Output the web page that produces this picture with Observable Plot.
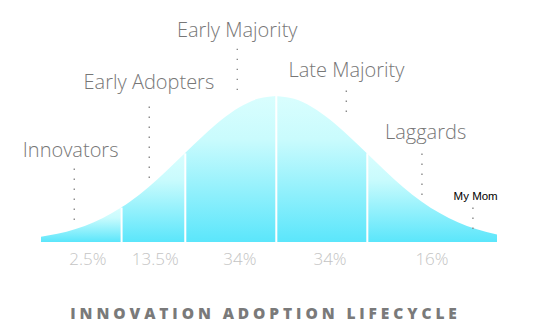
<!DOCTYPE html>
<html><head><meta charset="utf-8">
<script src="https://cdn.jsdelivr.net/npm/d3@7"></script>
<script src="https://cdn.jsdelivr.net/npm/@observablehq/plot@0.6"></script>
<style>body{margin:0;background:#fff;} #chart svg{display:block}</style>
</head><body><div id="chart"></div>
<script>
// Curve shape (x in standard deviations, y = relative height, peak = 100)
const curveX = [-2.58,-2.4,-2.2,-2.0,-1.8,-1.7,-1.6,-1.4,-1.2,-1.0,-0.8,-0.6,-0.4,-0.2,0,0.2,0.4,0.6,0.8,1.0,1.2,1.4,1.6,1.8,2.0,2.2,2.43];
const curveY = [3.6,5.6,8.9,13.5,19.8,23.6,27.8,37.5,48.7,60.7,72.6,83.5,92.3,98,100,98,92.3,83.5,72.6,60.7,48.7,37.5,27.8,19.8,13.5,8.9,5.2];
const dividers = [-1.7,-1,0,1];
const shares = ["2.5%","13.5%","34%","34%","16%"];
const shareX = [-2.07,-1.33,-0.40,0.59,1.71];
const groups = ["Innovators","Early Adopters","Early Majority","Late Majority","Laggards"];
const groupX = [-2.26,-1.40,-0.43,0.77,1.64];
const groupY = [58.2,105.4,140.4,113.2,71.0];
const extraLabel = "My Mom";
const extraX = 2.19, extraY = 28.8;
const leaderX = [-2.22,-1.396,-0.429,0.769,1.60,2.16];
const leaderTop = [50.7,94.5,133.5,104.8,61.6,24.7];
const leaderBottom = [15.1,43.8,104,89,32.2,8.9];
const title = "INNOVATION ADOPTION LIFECYCLE";

const bounds = [curveX[0], ...dividers, curveX[curveX.length-1]];
const areaData = [];
for (let s = 0; s < bounds.length - 1; s++) {
  curveX.forEach((x, i) => {
    if (x >= bounds[s] - 1e-9 && x <= bounds[s+1] + 1e-9) areaData.push({seg: s, x, y: curveY[i]});
  });
}
const dividerData = dividers.map(d => ({x: d, h: curveY[curveX.indexOf(d)]}));
const leaders = leaderX.map((x, i) => ({x, top: leaderTop[i], bottom: leaderBottom[i]}));
const groupData = groups.map((g, i) => ({g, x: groupX[i], y: groupY[i]}));
const shareData = shares.map((s, i) => ({s, x: shareX[i]}));

const plot = Plot.plot({
  width: 541, height: 334,
  marginLeft: 41, marginRight: 44, marginTop: 1, marginBottom: 0,
  x: {domain: [-2.58, 2.43], axis: null},
  y: {domain: [-63, 165], axis: null},
  style: {fontFamily: "'Open Sans', sans-serif", background: "#fff"},
  marks: [
    Plot.areaY(areaData, {x: "x", y1: 0, y2: "y", z: "seg", fill: "url(#cyanGrad)", curve: "monotone-x"}),
    Plot.ruleX(dividerData, {x: "x", y1: 0, y2: "h", stroke: "#fff", strokeWidth: 2}),
    Plot.ruleX(leaders, {x: "x", y1: "bottom", y2: "top", stroke: "#8a8a8a", strokeWidth: 1.4, strokeDasharray: "1.4,8.6"}),
    Plot.text(groupData, {x: "x", y: "y", text: "g", fontSize: 20, fontWeight: 300, fill: "#777", lineAnchor: "bottom"}),
    Plot.text([extraLabel], {x: extraX, y: extraY, text: d => d, fontSize: 11.5, fontFamily: "'Liberation Sans', Arial, sans-serif", fill: "#000", lineAnchor: "bottom"}),
    Plot.text(shareData, {x: "x", y: -15.7, text: "s", fontSize: 17, fontWeight: 300, fill: "#c4c4c4", lineAnchor: "bottom"}),
    Plot.text([title], {frameAnchor: "bottom", dx: -4, dy: -16, text: d => d, fontSize: 15.5, fontWeight: 800, fill: "#7a7a7a", lineAnchor: "bottom"})
  ]
});

const svg = d3.select(plot);
const defs = svg.insert("defs", ":first-child");
const grad = defs.append("linearGradient").attr("id", "cyanGrad").attr("x1", 0).attr("y1", 0).attr("x2", 0).attr("y2", 1);
grad.append("stop").attr("offset", "0%").attr("stop-color", "#d9fefe");
grad.append("stop").attr("offset", "30%").attr("stop-color", "#c9fbfd");
grad.append("stop").attr("offset", "100%").attr("stop-color", "#5be6fb");
svg.selectAll("text").filter(function() { return this.textContent === title; }).attr("letter-spacing", "3.9px");
document.getElementById("chart").appendChild(plot);
</script>
</body></html>
